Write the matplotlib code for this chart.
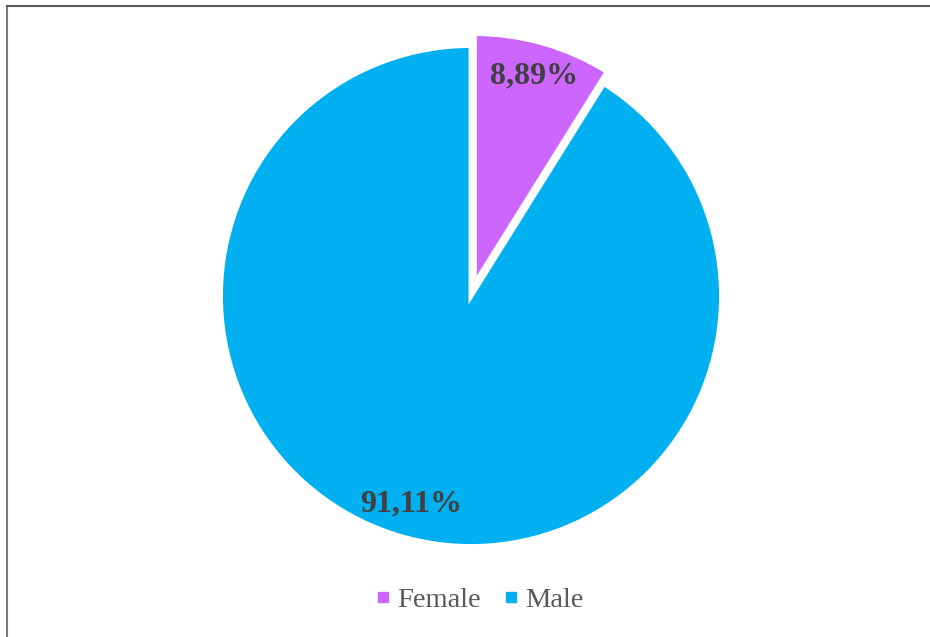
import matplotlib.pyplot as plt
from matplotlib.lines import Line2D

# gender split
labels = ["Female", "Male"]
shares = [8.89, 91.11]
colors = ["#CC66FF", "#00B0F0"]

plt.rcParams["font.family"] = ["Liberation Serif", "DejaVu Serif"]

fig = plt.figure(figsize=(9.3, 6.37), dpi=100)

# square axes around the pie, radius 1 = 248 px
W, H = 930, 637
cx, cy = 471, H - 296
half = 280
ax = fig.add_axes([(cx - half) / W, (cy - half) / H, 2 * half / W, 2 * half / H])

wedges, texts, autotexts = ax.pie(
    shares, colors=colors, startangle=90, counterclock=False,
    explode=[0.05, 0], radius=1.01, pctdistance=0.865,
    autopct=lambda p: f"{p:.2f}%".replace(".", ","),
    wedgeprops=dict(edgecolor="white", linewidth=3.5),
)
for t in autotexts:
    t.set_fontsize(23)
    t.set_fontweight("bold")
    t.set_color("#404040")

lim = half / 248
ax.set_xlim(-lim, lim)
ax.set_ylim(-lim, lim)
ax.set_aspect("equal")
ax.axis("off")

handles = [Line2D([], [], marker="s", linestyle="none", markersize=7,
                  markerfacecolor=c, markeredgecolor=c) for c in colors]
fig.legend(handles, labels, loc="center", bbox_to_anchor=(480 / W, 1 - 600 / H),
           ncol=2, frameon=False, fontsize=20.5, labelcolor="#595959",
           handlelength=0.5, handletextpad=0.25, columnspacing=0.8)

# outer frame (top and left edges)
fig.add_artist(Line2D([7 / W, 7 / W], [0, 1 - 6 / H], transform=fig.transFigure,
                      color="#7a7a7a", linewidth=1.5))
fig.add_artist(Line2D([7 / W, 1], [1 - 6 / H, 1 - 6 / H], transform=fig.transFigure,
                      color="#5a5a5a", linewidth=1.5))

fig.savefig("out.png", dpi=100, facecolor="white")
